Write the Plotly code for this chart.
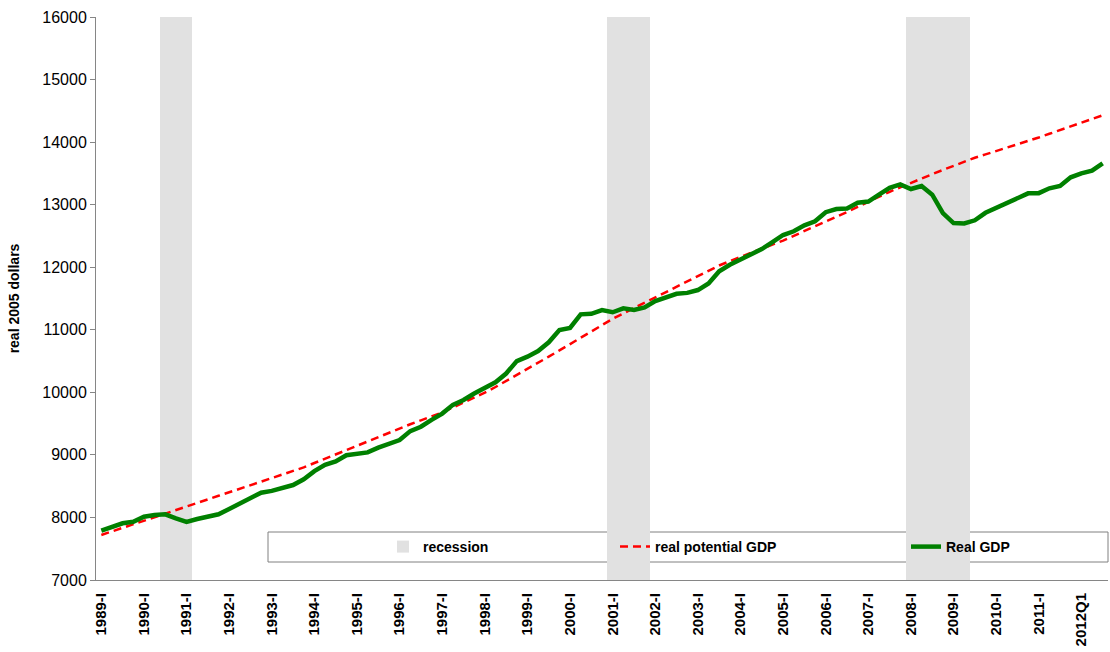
import plotly.graph_objects as go

# ---------------- data ----------------
years = list(range(1989, 2013))
quarters = [f"{y}Q{q}" for y in years for q in (1, 2, 3, 4)][:95]  # 1989Q1 .. 2012Q3

tick_cats = [f"{y}Q1" for y in years]
tick_labels = [f"{y}-I" for y in range(1989, 2012)] + ["2012Q1"]

real_gdp = [
    7790, 7850, 7906, 7930,      # 1989
    8012, 8040, 8050, 7985,      # 1990
    7930, 7975, 8010, 8050,      # 1991
    8135, 8222, 8310, 8396,      # 1992
    8425, 8470, 8518, 8610,      # 1993
    8740, 8840, 8895, 8995,      # 1994
    9010, 9040, 9115, 9180,      # 1995
    9238, 9380, 9450, 9560,      # 1996
    9660, 9800, 9877, 9980,      # 1997
    10075, 10160, 10300, 10500,  # 1998
    10570, 10660, 10800, 10996,  # 1999
    11030, 11247, 11255, 11316,  # 2000
    11280, 11343, 11316, 11359,  # 2001
    11460, 11525, 11575, 11590,  # 2002
    11635, 11740, 11935, 12040,  # 2003
    12120, 12200, 12290, 12400,  # 2004
    12515, 12575, 12670, 12735,  # 2005
    12880, 12930, 12940, 13030,  # 2006
    13050, 13160, 13270, 13325,  # 2007
    13250, 13298, 13160, 12865,  # 2008
    12705, 12700, 12750, 12870,  # 2009
    12945, 13020, 13100, 13181,  # 2010
    13184, 13262, 13300, 13437,  # 2011
    13501, 13545, 13660,         # 2012
]

potential_gdp = [
    7720, 7778, 7836, 7894,
    7952, 8010, 8066, 8122,
    8178, 8234, 8290, 8346,
    8402, 8458, 8514, 8570,
    8626, 8684, 8744, 8800,
    8870, 8940, 9010, 9080,
    9150, 9220, 9290, 9360,
    9425, 9490, 9552, 9615,
    9680, 9758, 9836, 9914,
    9995, 10085, 10180, 10280,
    10375, 10470, 10570, 10670,
    10772, 10874, 10975, 11076,
    11175, 11262, 11348, 11434,
    11519, 11604, 11689, 11774,
    11859, 11944, 12028, 12097,
    12166, 12235, 12300, 12363,
    12426, 12500, 12575, 12650,
    12725, 12800, 12883, 12966,
    13049, 13132, 13205, 13278,
    13351, 13419, 13487, 13555,
    13623, 13691, 13750, 13803,
    13856, 13909, 13962, 14015,
    14074, 14133, 14192, 14251,
    14310, 14369, 14428,
]

recession_quarters = ["1990Q3", "1990Q4", "1991Q1",
                      "2001Q1", "2001Q2", "2001Q3", "2001Q4",
                      "2008Q1", "2008Q2", "2008Q3", "2008Q4", "2009Q1", "2009Q2"]
recession = [1 if q in recession_quarters else 0 for q in quarters]

# ---------------- figure ----------------
FONT = "Liberation Sans, Arial, sans-serif"

fig = go.Figure()

fig.add_trace(go.Bar(
    x=quarters, y=recession, name="recession",
    marker=dict(color="#e1e1e1", line=dict(width=0)),
    width=1.0, yaxis="y", hoverinfo="skip", legend="legend",
))
fig.add_trace(go.Scatter(
    x=quarters, y=potential_gdp, name="real potential GDP", mode="lines",
    line=dict(color="#ff0000", width=2.5, dash="8px,5px"), yaxis="y2",
    legend="legend2",
))
fig.add_trace(go.Scatter(
    x=quarters, y=real_gdp, name="Real GDP", mode="lines",
    line=dict(color="#008000", width=4.5), yaxis="y2", legend="legend3",
))

L, R, T, B = 96, 2, 17, 72
W, H = 1110, 652
pw, ph = W - L - R, H - T - B

def px_x(p):
    return (p - L) / pw

def px_y(p):
    return (H - B - p) / ph

LEG_FONT = dict(family=FONT, size=14, color="black", weight="bold")

def legend_at(xpx):
    return dict(
        orientation="h",
        x=px_x(xpx), xanchor="left",
        y=px_y(547), yanchor="middle",
        font=LEG_FONT, bgcolor="rgba(0,0,0,0)", borderwidth=0,
    )

fig.update_layout(
    width=W, height=H,
    margin=dict(l=L, r=R, t=T, b=B, autoexpand=False),
    paper_bgcolor="white", plot_bgcolor="white",
    bargap=0,
    font=dict(family=FONT, color="black", size=14),
    showlegend=True,
    legend=legend_at(383),
    legend2=legend_at(615),
    legend3=legend_at(906),
    xaxis=dict(
        type="category",
        categoryorder="array", categoryarray=quarters,
        range=[-0.5, len(quarters) - 0.5],
        tickmode="array", tickvals=tick_cats, ticktext=tick_labels,
        tickangle=-90,
        tickfont=dict(family=FONT, size=15, color="black", weight="bold"),
        showline=True, linecolor="#868686", linewidth=1,
        ticks="outside", ticklen=6, tickcolor="rgba(0,0,0,0)",
        showgrid=False, zeroline=False, automargin=False,
    ),
    yaxis=dict(
        range=[0, 1], visible=False, fixedrange=True, automargin=False,
    ),
    yaxis2=dict(
        overlaying="y", side="left",
        range=[7000, 16000], dtick=1000, tick0=7000,
        tickformat="d",
        ticks="outside", ticklen=5, tickcolor="#868686",
        showline=True, linecolor="#868686", linewidth=1,
        showgrid=False, zeroline=False, automargin=False,
        tickfont=dict(family=FONT, size=16, color="black"),
        title=dict(text="real 2005 dollars", standoff=19,
                   font=dict(family=FONT, size=14, color="black", weight="bold")),
    ),
    shapes=[dict(
        type="rect", xref="paper", yref="paper",
        x0=px_x(268), x1=px_x(1108), y0=px_y(562), y1=px_y(532),
        line=dict(color="#808080", width=1), fillcolor="white", layer="below",
    )],
)

fig.write_html("out.html", config={"displayModeBar": False},
               post_script="document.body.style.margin='0';")
